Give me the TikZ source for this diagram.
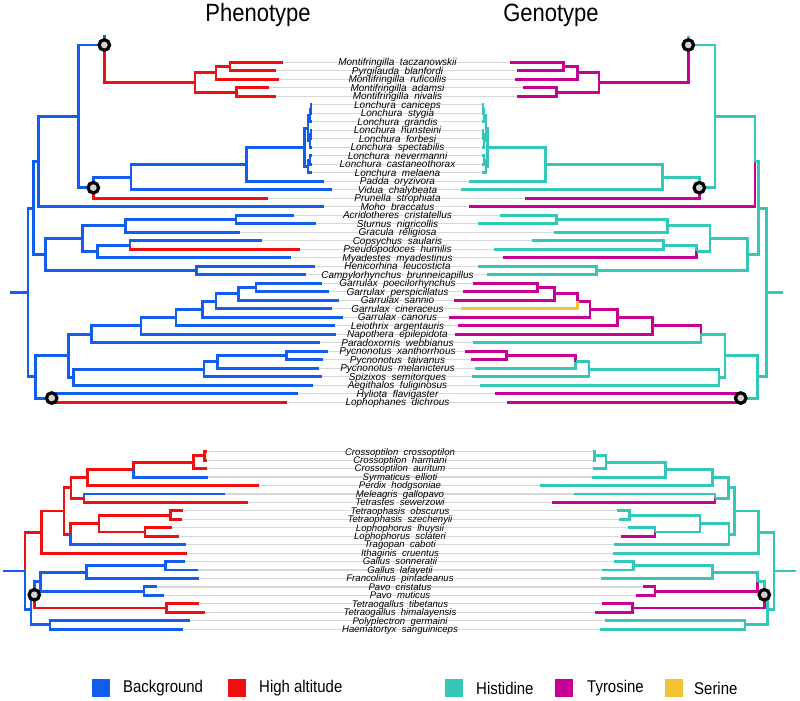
\documentclass[tikz,border=0pt]{standalone}
\usepackage{fontspec}
\setmainfont{Liberation Sans}
\newfontfamily\legfont[FakeStretch=0.88]{Liberation Sans}
\definecolor{cBl}{RGB}{17,94,238}
\definecolor{cRd}{RGB}{238,16,16}
\definecolor{cTl}{RGB}{51,199,183}
\definecolor{cMg}{RGB}{199,0,150}
\definecolor{cYl}{RGB}{242,195,50}
\definecolor{cGr}{RGB}{215,215,215}
\begin{document}
\begin{tikzpicture}[x=1pt,y=-1pt,
  br/.style={line width=2.9pt},
  bl/.style={br,draw=cBl}, rd/.style={br,draw=cRd},
  tl/.style={br,draw=cTl}, mg/.style={br,draw=cMg}, yl/.style={br,draw=cYl},
  gl/.style={draw=cGr,line width=1.2pt},
  lab/.style={font=\fontsize{10}{10}\selectfont\itshape,inner sep=0pt,anchor=base},
  labb/.style={font=\fontsize{9.6}{9.6}\selectfont\itshape,inner sep=0pt,anchor=base},
  circ/.style={circle,draw=black,line width=3.2pt,fill=gray!35,minimum size=10.5pt,inner sep=0pt},
  sq/.style={minimum size=18pt,inner sep=0pt},
  leg/.style={font=\legfont\fontsize{17}{17}\selectfont,inner sep=0pt,anchor=west},
  ttl/.style={font=\legfont\fontsize{25}{25}\selectfont,inner sep=0pt}]
\path[use as bounding box,fill=white] (0,0) rectangle (800,701);

% ---------- tips ----------
\foreach \i/\lx/\rx in {1/283.3/510,2/276/517.3,3/278.7/515,4/269.3/523.3,5/276/517.3,
  6/312/481.7,7/312/481.7,8/312/481.7,9/312/481.7,10/312/481.7,11/312/481.7,12/312/481.7,13/312/481.7,14/312/481.7,
  15/324/469.3,16/332.3/461,17/268.3/525,18/324.3/469,19/294/500,20/315.7/477.7,21/240/554,
  22/261.7/532.3,23/300/494.3,24/291/502.7,25/315/477.7,26/305.7/487.3,27/321.7/472.7,28/329/463.3,
  29/339/454.3,30/332.3/461,31/342.7/449.3,32/335/457.7,33/336/455,34/320/472.7,35/328.3/465,
  36/322.7/470.7,37/319/475,38/321.7/472.3,39/313.3/480,40/298.3/495,41/287.3/506.7}{
  \coordinate (lt\i) at (\lx,{62.3+8.5*(\i-1)});
  \coordinate (rt\i) at (\rx,{62.3+8.5*(\i-1)});
  \draw[gl] (lt\i) -- (rt\i);
}
\foreach \i/\lx/\rx in {1/206.7/593,2/206.7/593,3/206.7/592.7,4/208.3/591.7,5/259.3/540,6/225.3/574.3,
  7/248.3/551.7,8/183.3/616.7,9/181.7/619,10/171.7/628.3,11/179.3/620.7,12/185.7/614,13/187.3/612.7,
  14/185.3/614.3,15/198/602,16/199/601,17/157.3/642.7,18/164/636,19/199/601.7,20/205/595,
  21/190/605,22/183/600}{
  \coordinate (lb\i) at (\lx,{451.7+8.45*(\i-1)});
  \coordinate (rb\i) at (\rx,{451.7+8.45*(\i-1)});
  \draw[gl] (lb\i) -- (rb\i);
}

% ---------- labels ----------
\foreach \i/\g/\s in {1/Montifringilla/taczanowskii,2/Pyrgilauda/blanfordi,3/Montifringilla/ruficollis,
  4/Montifringilla/adamsi,5/Montifringilla/nivalis,6/Lonchura/caniceps,7/Lonchura/stygia,8/Lonchura/grandis,
  9/Lonchura/hunsteini,10/Lonchura/forbesi,11/Lonchura/spectabilis,12/Lonchura/nevermanni,
  13/Lonchura/castaneothorax,14/Lonchura/melaena,15/Padda/oryzivora,16/Vidua/chalybeata,
  17/Prunella/strophiata,18/Moho/braccatus,19/Acridotheres/cristatellus,20/Sturnus/nigricollis,
  21/Gracula/religiosa,22/Copsychus/saularis,23/Pseudopodoces/humilis,24/Myadestes/myadestinus,
  25/Henicorhina/leucosticta,26/Campylorhynchus/brunneicapillus,27/Garrulax/poecilorhynchus,
  28/Garrulax/perspicillatus,29/Garrulax/sannio,30/Garrulax/cineraceus,31/Garrulax/canorus,
  32/Leiothrix/argentauris,33/Napothera/epilepidota,34/Paradoxornis/webbianus,35/Pycnonotus/xanthorrhous,
  36/Pycnonotus/taivanus,37/Pycnonotus/melanicterus,38/Spizixos/semitorques,39/Aegithalos/fuliginosus,
  40/Hyliota/flavigaster,41/Lophophanes/dichrous}{
  \node[lab] (nt\i) at (397.5,{62.3+8.5*(\i-1)+3.4}) {\g~~\s};
}
\foreach \i/\g/\s in {1/Crossoptilon/crossoptilon,2/Crossoptilon/harmani,3/Crossoptilon/auritum,
  4/Syrmaticus/ellioti,5/Perdix/hodgsoniae,6/Meleagris/gallopavo,7/Tetrastes/sewerzowi,
  8/Tetraophasis/obscurus,9/Tetraophasis/szechenyii,10/Lophophorus/lhuysii,11/Lophophorus/sclateri,
  12/Tragopan/caboti,13/Ithaginis/cruentus,14/Gallus/sonneratii,15/Gallus/lafayetii,
  16/Francolinus/pintadeanus,17/Pavo/cristatus,18/Pavo/muticus,19/Tetraogallus/tibetanus,
  20/Tetraogallus/himalayensis,21/Polyplectron/germaini,22/Haematortyx/sanguiniceps}{
  \node[labb] (nb\i) at (400,{451.7+8.45*(\i-1)+3.3}) {\g~~\s};
}

% ---------- top-left tree (Phenotype) ----------
\coordinate (aA) at (230,66.55); \coordinate (aB) at (216,72.93); \coordinate (aC) at (236.7,92.05);
\coordinate (aD) at (195,82.49); \coordinate (aC1) at (104.3,45); \coordinate (aStub) at (104.3,35);
\coordinate (aLa) at (311,109.05); \coordinate (aLb) at (310,115.43); \coordinate (aLc) at (311,134.55);
\coordinate (aLd) at (310,140.93); \coordinate (aLe) at (308,128.18); \coordinate (aLf) at (310,160.05);
\coordinate (aLg) at (308,166.43); \coordinate (aL) at (304.3,147.3);
\coordinate (aH) at (246.7,164.3); \coordinate (aG) at (131,177.05); \coordinate (aF) at (93.3,187.7);
\coordinate (aE) at (78.3,116.35); \coordinate (aP) at (38.3,161.6);
\coordinate (aX) at (236,219.55); \coordinate (aW) at (125.7,225.9); \coordinate (aZ) at (130,245.05);
\coordinate (aY) at (97.3,251.4); \coordinate (aV) at (82.7,238.65); \coordinate (aAA) at (196.7,270.55);
\coordinate (aU) at (45.7,254.6); \coordinate (aQ) at (33.5,208.1);
\coordinate (aG1) at (256,287.55); \coordinate (aG2) at (238.3,293.9); \coordinate (aG3) at (216,301.35);
\coordinate (aG4) at (202.7,309.3); \coordinate (aG5) at (176,317.55); \coordinate (aG6) at (141,325.9);
\coordinate (aG7) at (91.7,334.35); \coordinate (aP1) at (286.7,355.55); \coordinate (aP2) at (217.3,361.9);
\coordinate (aP3) at (204,369.35); \coordinate (aP4) at (73.3,377.3); \coordinate (aG8) at (68.3,355.8);
\coordinate (aHL) at (51.7,398.05); \coordinate (aS) at (35.7,376.9); \coordinate (aR) at (28,292.5);
\coordinate (aRoot) at (10,292.5);
\foreach \p/\c in {aA/lt1,aA/lt2,aB/aA,aB/lt3,aC/lt4,aC/lt5,aD/aB,aD/aC,aC1/aD,aF/lt17,aZ/lt23,aHL/lt41}
  \draw[rd] (\p) |- (\c);
\foreach \p/\c in {aE/aC1,aLa/lt6,aLa/lt7,aLb/aLa,aLb/lt8,aLc/lt9,aLc/lt10,aLd/aLc,aLd/lt11,aLe/aLb,aLe/aLd,
  aLf/lt12,aLf/lt13,aLg/aLf,aLg/lt14,aL/aLe,aL/aLg,aH/aL,aH/lt15,aG/aH,aG/lt16,aF/aG,aE/aF,aP/aE,aP/lt18,
  aX/lt19,aX/lt20,aW/aX,aW/lt21,aZ/lt22,aY/aZ,aY/lt24,aV/aW,aV/aY,aAA/lt25,aAA/lt26,aU/aV,aU/aAA,aQ/aP,aQ/aU,
  aG1/lt27,aG1/lt28,aG2/aG1,aG2/lt29,aG3/aG2,aG3/lt30,aG4/aG3,aG4/lt31,aG5/aG4,aG5/lt32,aG6/aG5,aG6/lt33,
  aG7/aG6,aG7/lt34,aP1/lt35,aP1/lt36,aP2/aP1,aP2/lt37,aP3/aP2,aP3/lt38,aP4/aP3,aP4/lt39,aG8/aG7,aG8/aP4,
  aHL/lt40,aS/aG8,aS/aHL,aR/aQ,aR/aS}
  \draw[bl] (\p) |- (\c);
\draw[bl] (aC1) -- (aStub);
\draw[bl] (aRoot) -- (aR);

% ---------- top-right tree (Genotype) ----------
\coordinate (bA) at (563.3,66.55); \coordinate (bB) at (577.7,72.93); \coordinate (bC) at (556.7,92.05);
\coordinate (bD) at (599,82.49); \coordinate (bC1) at (688.3,45); \coordinate (bStub) at (688.3,36);
\coordinate (bLa) at (483,109.05); \coordinate (bLb) at (484,115.43); \coordinate (bLc) at (483,134.55);
\coordinate (bLd) at (484,140.93); \coordinate (bLe) at (486,128.18); \coordinate (bLf) at (484,160.05);
\coordinate (bLg) at (486,166.43); \coordinate (bL) at (487.3,147.3);
\coordinate (bH) at (545.7,164.3); \coordinate (bG) at (662.3,177.05); \coordinate (bF) at (699.3,187.7);
\coordinate (bE) at (715,116.35); \coordinate (bP) at (755,161.6);
\coordinate (bX) at (556.7,219.55); \coordinate (bW) at (667.7,225.9); \coordinate (bZ) at (663.3,245.05);
\coordinate (bY) at (696.7,251.4); \coordinate (bV) at (710,238.65); \coordinate (bAA) at (596.7,270.55);
\coordinate (bU) at (747.7,254.6); \coordinate (bQ) at (758.3,208.1);
\coordinate (bG1) at (537.3,287.55); \coordinate (bG2) at (554.3,293.9); \coordinate (bG3) at (577.7,301.35);
\coordinate (bG4) at (590,309.3); \coordinate (bG5) at (617.3,317.55); \coordinate (bG6) at (652.3,325.9);
\coordinate (bG7) at (701,334.35); \coordinate (bP1) at (506.7,355.55); \coordinate (bP2) at (575.7,361.9);
\coordinate (bP3) at (589,369.35); \coordinate (bP4) at (719,377.3); \coordinate (bG8) at (725,355.8);
\coordinate (bHL) at (740.7,398.05); \coordinate (bS) at (757.7,376.9); \coordinate (bR) at (766.5,292.5);
\coordinate (bRoot) at (783.3,292.5);
\foreach \p/\c in {bA/rt1,bA/rt2,bB/bA,bB/rt3,bC/rt4,bC/rt5,bD/bB,bD/bC,bC1/bD,bF/rt17,bP/rt18,bY/rt24,
  bG1/rt27,bG1/rt28,bG2/bG1,bG2/rt29,bG3/bG2,bG4/bG3,bG4/rt31,bG5/bG4,bG5/rt32,bG6/bG5,bG6/rt33,bG7/bG6,
  bP1/rt35,bP1/rt36,bP2/bP1,bHL/rt40,bHL/rt41}
  \draw[mg] (\p) |- (\c);
\draw[yl] (bG3) |- (rt30);
\foreach \p/\c in {bE/bC1,bLa/rt6,bLa/rt7,bLb/bLa,bLb/rt8,bLc/rt9,bLc/rt10,bLd/bLc,bLd/rt11,bLe/bLb,bLe/bLd,
  bLf/rt12,bLf/rt13,bLg/bLf,bLg/rt14,bL/bLe,bL/bLg,bH/bL,bH/rt15,bG/bH,bG/rt16,bF/bG,bE/bF,bP/bE,
  bX/rt19,bX/rt20,bW/bX,bW/rt21,bZ/rt22,bZ/rt23,bY/bZ,bV/bW,bV/bY,bAA/rt25,bAA/rt26,bU/bV,bU/bAA,bQ/bP,bQ/bU,
  bG7/rt34,bP2/rt37,bP3/bP2,bP3/rt38,bP4/bP3,bP4/rt39,bG8/bG7,bG8/bP4,bS/bG8,bS/bHL,bR/bQ,bR/bS}
  \draw[tl] (\p) |- (\c);
\draw[tl] (bC1) -- (bStub);
\draw[tl] (bRoot) -- (bR);

% ---------- bottom-left tree ----------
\coordinate (cCr1) at (204.5,455.9); \coordinate (cCr2) at (193.3,462.25); \coordinate (cCr3) at (133.3,469.65);
\coordinate (cCr4) at (87.3,477.6); \coordinate (cMe) at (84,498.2); \coordinate (cCr5) at (71,487.9);
\coordinate (cTe1) at (170.7,515.1); \coordinate (cLo1) at (145,532); \coordinate (cTe2) at (99,523.55);
\coordinate (cTr) at (70.7,534.1); \coordinate (cCr6) at (64,511); \coordinate (cIth) at (41.7,532.05);
\coordinate (cGa1) at (165.7,565.8); \coordinate (cGa2) at (86.7,572.1); \coordinate (cPa) at (144,591.1);
\coordinate (cGa3) at (40.7,581.6); \coordinate (cTg) at (166.7,608); \coordinate (cCN) at (34.3,594.8);
\coordinate (cPH) at (50,624.9); \coordinate (cK) at (31,609.9); \coordinate (cR) at (25,571);
\coordinate (cRoot) at (3.3,571);
\foreach \p/\c in {cCr1/lb1,cCr1/lb2,cCr2/cCr1,cCr2/lb3,cCr3/cCr2,cCr4/cCr3,cCr4/lb5,cMe/lb7,cCr5/cCr4,cCr5/cMe,
  cTe1/lb8,cTe1/lb9,cLo1/lb10,cLo1/lb11,cTe2/cTe1,cTe2/cLo1,cTr/cTe2,cCr6/cCr5,cCr6/cTr,cIth/cCr6,cIth/lb13,
  cR/cIth,cCN/cTg,cTg/lb19,cTg/lb20}
  \draw[rd] (\p) |- (\c);
\foreach \p/\c in {cCr3/lb4,cMe/lb6,cTr/lb12,cR/cK,cK/cCN,cK/cPH,cCN/cGa3,cGa3/cGa2,cGa3/cPa,cGa1/lb14,cGa1/lb15,
  cGa2/cGa1,cGa2/lb16,cPa/lb17,cPa/lb18,cPH/lb21,cPH/lb22}
  \draw[bl] (\p) |- (\c);
\draw[bl] (cRoot) -- (cR);

% ---------- bottom-right tree ----------
\coordinate (dCr1) at (594.5,455.9); \coordinate (dCr2) at (606,462.25); \coordinate (dCr3) at (665.7,469.65);
\coordinate (dCr4) at (712.3,477.6); \coordinate (dMe) at (715,498.2); \coordinate (dCr5) at (728.3,487.9);
\coordinate (dTe1) at (629.3,515.1); \coordinate (dLo1) at (655,532); \coordinate (dTe2) at (700,523.55);
\coordinate (dTr) at (729,534.1); \coordinate (dCr6) at (734.3,511); \coordinate (dIth) at (758.3,532.05);
\coordinate (dGa1) at (633.3,565.8); \coordinate (dGa2) at (712.3,572.1); \coordinate (dPa) at (655,591.1);
\coordinate (dGa3) at (757.7,581.6); \coordinate (dTg) at (632.3,608); \coordinate (dCN) at (764.3,594.8);
\coordinate (dPH) at (745,624.9); \coordinate (dK) at (767.7,609.9); \coordinate (dR) at (774,571);
\coordinate (dRoot) at (796,571);
\foreach \p/\c in {dMe/rb7,dLo1/rb11,dPa/rb17,dPa/rb18,dGa3/dPa,dTg/rb19,dTg/rb20,dCN/dTg}
  \draw[mg] (\p) |- (\c);
\foreach \p/\c in {dCr1/rb1,dCr1/rb2,dCr2/dCr1,dCr2/rb3,dCr3/dCr2,dCr3/rb4,dCr4/dCr3,dCr4/rb5,dMe/rb6,
  dCr5/dCr4,dCr5/dMe,dTe1/rb8,dTe1/rb9,dLo1/rb10,dTe2/dTe1,dTe2/dLo1,dTr/dTe2,dTr/rb12,dCr6/dCr5,dCr6/dTr,
  dIth/dCr6,dIth/rb13,dR/dIth,dR/dK,dK/dCN,dK/dPH,dCN/dGa3,dGa3/dGa2,dGa1/rb14,dGa1/rb15,dGa2/dGa1,
  dGa2/rb16,dPH/rb21,dPH/rb22}
  \draw[tl] (\p) |- (\c);
\draw[tl] (dRoot) -- (dR);

% ---------- circles ----------
\node[circ] (k1) at (aC1) {};
\node[circ] (k2) at (aF) {};
\node[circ] (k3) at (aHL) {};
\node[circ] (k4) at (bC1) {};
\node[circ] (k5) at (bF) {};
\node[circ] (k6) at (bHL) {};
\node[circ] (k7) at (cCN) {};
\node[circ] (k8) at (dCN) {};

% ---------- titles ----------
\node[ttl] (ph) at (258,15) {Phenotype};
\node[ttl] (ge) at (551,15) {Genotype};

% ---------- legend ----------
\node[sq,fill=cBl] (s1) at (101,688) {};
\node[leg] (l1) at (123,688) {Background};
\node[sq,fill=cRd] (s2) at (237,688) {};
\node[leg] (l2) at (259,688) {High altitude};
\node[sq,fill=cTl] (s3) at (453.5,688) {};
\node[leg] (l3) at (476,688) {Histidine};
\node[sq,fill=cMg] (s4) at (563.5,688) {};
\node[leg] (l4) at (587,688) {Tyrosine};
\node[sq,fill=cYl] (s5) at (673.5,688) {};
\node[leg] (l5) at (694,688) {Serine};
\end{tikzpicture}
\end{document}
